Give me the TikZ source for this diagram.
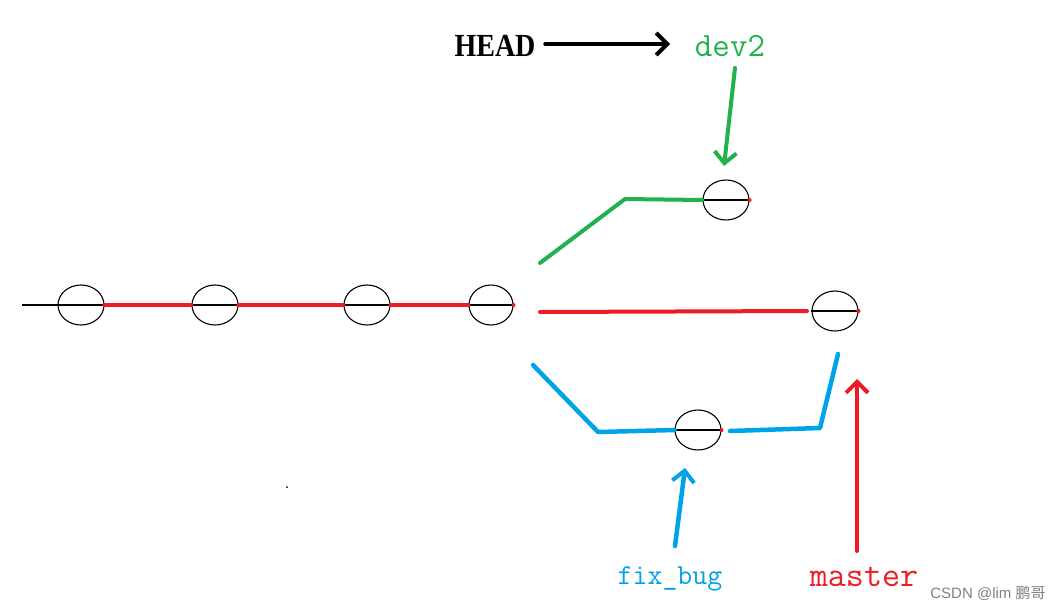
\documentclass[tikz,border=0pt]{standalone}
\usepackage{fontspec}
\setmainfont{Liberation Serif}
\newfontfamily\cjkfont{Noto Sans CJK SC}
\usetikzlibrary{shapes.geometric,arrows.meta}
\definecolor{gitred}{RGB}{237,28,36}
\definecolor{gitgreen}{RGB}{34,177,76}
\definecolor{gitblue}{RGB}{0,162,232}
\tikzset{
  commit/.style={ellipse,draw=black,line width=1.1pt,minimum width=46pt,minimum height=40pt,inner sep=0pt},
  redline/.style={draw=gitred,line width=4pt,line cap=round},
  greenline/.style={draw=gitgreen,line width=4pt,line cap=round,line join=round},
  blueline/.style={draw=gitblue,line width=4.5pt,line cap=round,line join=round},
  barb/.style={-{Straight Barb[length=11pt,width=22pt,line width=4pt]},line cap=round},
  lbl/.style={inner sep=0pt,anchor=base},
}
\newcommand{\commitdia}[1]{\draw[black,line width=1.1pt] (#1.west) -- (#1.east); \fill[gitred] (#1.east) circle (2pt);}
\begin{document}
\begin{tikzpicture}[x=1pt,y=-1pt]
\useasboundingbox (0,0) rectangle (1063,611);
% commits
\node[commit] (c1) at (81,305) {};
\node[commit,minimum width=46pt] (c2) at (215,305) {};
\node[commit] (c3) at (367,305) {};
\node[commit,minimum width=44pt] (c4) at (491,305) {};
\node[commit] (c5) at (726,200) {};
\node[commit] (c6) at (835,311) {};
\node[commit] (c7) at (698,430) {};
\foreach \c in {c1,c2,c3,c4,c5,c6,c7} {\commitdia{\c}}
% base line
\coordinate (start) at (22,305);
\draw[black,line width=1.1pt] (start) -- (c1.west);
\draw[redline] (c1.east) -- (c2.west);
\draw[redline] (c2.east) -- (c3.west);
\draw[redline] (c3.east) -- (c4.west);
% master branch
\coordinate (m0) at (540,312);
\coordinate (m1) at (807,311);
\draw[redline] (m0) -- (m1);
% dev2 branch
\coordinate (g0) at (540,263);
\coordinate (g1) at (625,199);
\draw[greenline] (g0) -- (g1) -- (c5.west);
% fix_bug branch
\coordinate (b0) at (533,365);
\coordinate (b1) at (598,432);
\coordinate (b2) at (730,431);
\coordinate (b3) at (820,428);
\coordinate (b4) at (838,354);
\draw[blueline] (b0) -- (b1) -- (c7.west);
\draw[blueline] (b2) -- (b3) -- (b4);
% labels
\node[lbl,font=\bfseries\fontsize{28}{28}\selectfont] (head) at (495,56) {\scalebox{1}[1.15]{HEAD}};
\node[lbl,font=\ttfamily\fontsize{34}{34}\selectfont,text=gitgreen] (dev2) at (730,56) {dev2};
\node[lbl,font=\ttfamily\fontsize{29}{29}\selectfont,text=gitblue] (fixbug) at (670,584) {fix\_bug};
\node[lbl,font=\ttfamily\fontsize{35}{35}\selectfont,text=gitred] (master) at (864,586) {master};
\node[lbl,font=\sffamily\fontsize{15}{15}\selectfont,text=gray] (wm) at (988,598) {\fontspec{Liberation Sans}CSDN @lim \cjkfont 鹏哥};
% pointer arrows
\coordinate (ha) at (545,44);
\coordinate (hb) at (670,44);
\draw[black,line width=3.5pt,barb] (ha) -- (hb);
\coordinate (da) at (735,68);
\coordinate (db) at (724,166);
\draw[gitgreen,line width=4pt,barb] (da) -- (db);
\coordinate (fa) at (675,546);
\coordinate (fb) at (685,468);
\draw[gitblue,line width=4.5pt,barb] (fa) -- (fb);
\coordinate (ma) at (857,551);
\coordinate (mb) at (857,379);
\draw[gitred,line width=4pt,barb] (ma) -- (mb);
% stray dot
\fill[black] (287,487) circle (1pt);
\end{tikzpicture}
\end{document}
